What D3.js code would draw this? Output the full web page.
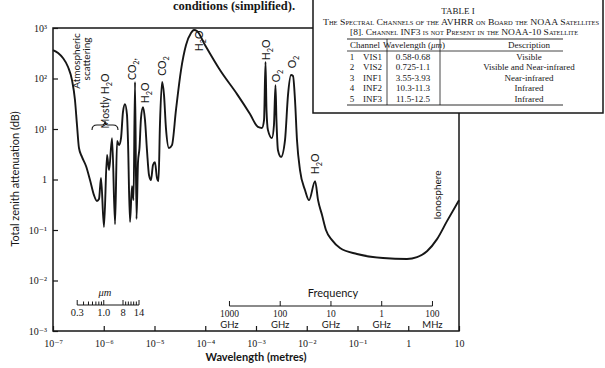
<!DOCTYPE html>
<html>
<head>
<meta charset="utf-8">
<script src="https://cdn.jsdelivr.net/npm/d3@7/dist/d3.min.js"></script>
<style>
	body { margin: 0; background: #fff; }
	svg { display: block; }
</style>
</head>
<body>
<div id="chart"></div>
<script>
// total zenith attenuation (dB) against wavelength (m)
const wavelength = [
	1.0e-7, 1.26e-7, 1.57e-7, 1.98e-7, 2.37e-7, 2.71e-7, 2.97e-7, 3.25e-7, 3.72e-7, 4.47e-7,
	5.36e-7, 6.42e-7, 7.36e-7, 8.06e-7, 8.83e-7, 1.01e-6, 1.16e-6, 1.27e-6, 1.46e-6, 1.67e-6,
	1.83e-6, 2.0e-6, 2.19e-6, 2.39e-6, 2.62e-6, 2.87e-6, 3.0e-6, 3.29e-6, 3.6e-6, 3.86e-6,
	4.13e-6, 4.42e-6, 4.73e-6, 5.06e-6, 5.42e-6, 5.93e-6, 6.5e-6, 7.11e-6, 7.79e-6, 8.53e-6,
	9.34e-6, 1.02e-5, 1.12e-5, 1.2e-5, 1.28e-5, 1.41e-5, 1.54e-5, 1.68e-5, 1.93e-5, 2.21e-5,
	2.65e-5, 3.33e-5, 4.18e-5, 5.24e-5, 6.0e-5, 6.87e-5, 9.88e-5, 1.95e-4, 4.23e-4, 7.62e-4,
	1.09e-3, 1.31e-3, 1.44e-3, 1.54e-3, 1.61e-3, 1.72e-3, 2.06e-3, 2.26e-3, 2.42e-3, 2.53e-3,
	2.71e-3, 3.11e-3, 3.73e-3, 4.27e-3, 4.9e-3, 5.36e-3, 5.87e-3, 6.42e-3, 7.36e-3, 9.24e-3,
	1.11e-2, 1.46e-2, 1.67e-2, 2.0e-2, 2.39e-2, 3.15e-2, 4.52e-2, 9.77e-2, 0.318, 0.944,
	1.49, 2.34, 3.69, 5.8, 10
];
const attenuation = [
	366, 320, 255, 169, 93, 37.5, 12, 4.2, 2.8, 1.85,
	0.98, 0.49, 0.375, 0.41, 1.07, 0.115, 3.05, 1.54, 6.6, 0.13,
	5.8, 4.8, 6.6, 21.7, 31, 19, 6.05, 0.144, 0.74, 0.39,
	85, 0.165, 2.2, 4.2, 16.5, 27, 15, 3.8, 1.23, 0.98,
	1.94, 2.2, 1.07, 0.93, 12, 85, 47, 10.5, 4.2, 4.8,
	23.8, 147, 460, 796, 912, 873, 460, 147, 49, 19.8,
	11, 10.5, 15, 212, 23.8, 9.5, 6.6, 12, 74, 15,
	3.8, 2.8, 6.05, 47, 117, 112, 37.5, 6.05, 1.54, 0.62,
	0.39, 0.93, 0.39, 0.198, 0.1, 0.063, 0.044, 0.0335, 0.0279, 0.0267,
	0.029, 0.038, 0.066, 0.15, 0.39
];

const xTicks = [1e-7, 1e-6, 1e-5, 1e-4, 1e-3, 1e-2, 1e-1, 1, 10];
const xTickLabels = ['10⁻⁷', '10⁻⁶', '10⁻⁵', '10⁻⁴', '10⁻³', '10⁻²', '10⁻¹', '1', '10'];
const yTicks = [1e3, 1e2, 1e1, 1, 1e-1, 1e-2, 1e-3];
const yTickLabels = ['10³', '10²', '10¹', '1', '10⁻¹', '10⁻²', '10⁻³'];

// micrometre inset scale
const micronTicksShort = [0.3, 0.4, 0.5, 0.6, 0.7, 0.8, 0.9, 1.0];
const micronTicksLong = [8, 9, 10, 11, 12, 13, 14];
const micronLabels = ['0.3', '1.0', '8', '14'];

// frequency inset scale (Hz)
const freqTicks = [1e12, 1e11, 1e10, 1e9, 1e8];
const freqLabels = ['1000', '100', '10', '1', '100'];
const freqUnits = ['GHz', 'GHz', 'GHz', 'GHz', 'MHz'];

// table I
const tableChannels = ['1', '2', '3', '4', '5'];
const tableNames = ['VIS1', 'VIS2', 'INF1', 'INF2', 'INF3'];
const tableWavelengths = ['0.58-0.68', '0.725-1.1', '3.55-3.93', '10.3-11.3', '11.5-12.5'];
const tableDescriptions = ['Visible', 'Visible and Near-infrared', 'Near-infrared', 'Infrared', 'Infrared'];

const width = 605;
const height = 368;
const ink = '#161616';
const serif = '"Liberation Serif", "DejaVu Serif", serif';
const sans = 'Lato, "Open Sans", sans-serif';

const svg = d3.select('#chart').append('svg')
	.attr('width', width)
	.attr('height', height)
	.style('background', '#fff');

const x = d3.scaleLog().domain([1e-7, 10]).range([53, 459]);
const y = d3.scaleLog().domain([1e-3, 1e3]).range([331, 28]);

// title fragment at the top
svg.append('text')
	.attr('x', 234).attr('y', 10)
	.attr('text-anchor', 'middle')
	.style('font-family', serif).style('font-size', '12.5px').style('font-weight', 'bold')
	.attr('fill', ink)
	.text('conditions (simplified).');

// frame
svg.append('rect')
	.attr('x', x(1e-7)).attr('y', y(1e3))
	.attr('width', x(10) - x(1e-7)).attr('height', y(1e-3) - y(1e3))
	.attr('fill', 'none').attr('stroke', ink).attr('stroke-width', 1.5);

const xAxis = svg.append('g')
	.attr('transform', 'translate(0,' + y(1e-3) + ')')
	.call(d3.axisBottom(x).tickValues(xTicks).tickSizeInner(-5).tickSizeOuter(0).tickPadding(9)
		.tickFormat((d, i) => xTickLabels[i]));
xAxis.select('.domain').remove();
xAxis.selectAll('line').attr('stroke', ink).attr('stroke-width', 1.2);
xAxis.selectAll('text').style('font-family', serif).style('font-size', '10px').attr('fill', ink);

const yAxis = svg.append('g')
	.attr('transform', 'translate(' + x(1e-7) + ',0)')
	.call(d3.axisLeft(y).tickValues(yTicks).tickSizeInner(-5).tickSizeOuter(0).tickPadding(6)
		.tickFormat((d, i) => yTickLabels[i]));
yAxis.select('.domain').remove();
yAxis.selectAll('line').attr('stroke', ink).attr('stroke-width', 1.2);
yAxis.selectAll('text').style('font-family', serif).style('font-size', '10px').attr('fill', ink);

svg.append('text')
	.attr('transform', 'translate(19,179) rotate(-90)')
	.attr('text-anchor', 'middle')
	.style('font-family', sans).style('font-size', '11px')
	.attr('fill', ink)
	.text('Total zenith attenuation (dB)');

svg.append('text')
	.attr('x', 256).attr('y', 361)
	.attr('text-anchor', 'middle')
	.style('font-family', sans).style('font-size', '11px').style('font-weight', 'bold')
	.attr('fill', ink)
	.text('Wavelength (metres)');

// attenuation curve
const line = d3.line()
	.x((d) => x(d[0]))
	.y((d) => y(d[1]))
	.curve(d3.curveMonotoneX);

svg.append('path')
	.datum(wavelength.map((w, i) => [w, attenuation[i]]))
	.attr('d', line)
	.attr('fill', 'none')
	.attr('stroke', ink)
	.attr('stroke-width', 1.9)
	.attr('stroke-linejoin', 'round');

// rotated band labels, parts: [text, isSubscript]
function bandLabel(cx, cy, parts, size) {
	const t = svg.append('text')
		.attr('transform', 'translate(' + cx + ',' + cy + ') rotate(-90)')
		.attr('text-anchor', 'middle')
		.style('font-family', sans).style('font-size', (size || 10.5) + 'px')
		.attr('fill', ink);
	let shift = 0;
	parts.forEach((p) => {
		const dy = p[1] ? 2.5 : -shift;
		shift = p[1] ? 2.5 : 0;
		t.append('tspan')
			.attr('dy', dy)
			.style('font-size', p[1] ? '70%' : null)
			.text(p[0]);
	});
}

bandLabel(80, 61, [['Atmospheric']], 10);
bandLabel(90, 59, [['scattering']], 10);
bandLabel(109, 101, [['Mostly H'], ['2', true], ['O']]);
bandLabel(136, 69, [['CO'], ['2', true], [',']]);
bandLabel(149, 93, [['H'], ['2', true], ['O']]);
bandLabel(166, 66, [['CO'], ['2', true]]);
bandLabel(203, 41, [['H'], ['2', true], ['O']]);
bandLabel(270, 50, [['H'], ['2', true], ['O']]);
bandLabel(280, 76, [['O'], ['2', true]]);
bandLabel(296, 62, [['O'], ['2', true]]);
bandLabel(319, 164, [['H'], ['2', true], ['O']]);
bandLabel(441, 195, [['Ionosphere']], 10);

// brace under "Mostly H2O"
svg.append('path')
	.attr('d', 'M92,130 Q92,125 97,125 L102,125 Q105,125 105,121 Q105,125 108,125 L113,125 Q118,125 118,130')
	.attr('fill', 'none').attr('stroke', ink).attr('stroke-width', 1.1);

// micrometre inset scale
const microYs = 305;
const xMicronLong = d3.scaleLinear().domain([8, 14]).range([123, 139]);
const micronPos = (v) => v <= 1 ? x(v * 1e-6) : xMicronLong(v);

svg.append('line')
	.attr('x1', micronPos(0.3)).attr('x2', micronPos(14))
	.attr('y1', microYs).attr('y2', microYs)
	.attr('stroke', ink).attr('stroke-width', 1.1);

svg.selectAll('.micron-tick')
	.data(micronTicksShort.concat(micronTicksLong))
	.enter().append('line')
	.attr('class', 'micron-tick')
	.attr('x1', (d) => micronPos(d)).attr('x2', (d) => micronPos(d))
	.attr('y1', microYs)
	.attr('y2', (d) => (d === 0.3 || d === 1.0 || d === 8 || d === 14) ? microYs - 5 : microYs - 3.5)
	.attr('stroke', ink).attr('stroke-width', 1);

svg.selectAll('.micron-label')
	.data(micronLabels)
	.enter().append('text')
	.attr('class', 'micron-label')
	.attr('x', (d) => micronPos(+d))
	.attr('y', microYs + 11)
	.attr('text-anchor', 'middle')
	.style('font-family', serif).style('font-size', '10.5px')
	.attr('fill', ink)
	.text((d) => d);

svg.append('text')
	.attr('x', 105).attr('y', 296)
	.attr('text-anchor', 'middle')
	.style('font-family', serif).style('font-size', '10.5px').style('font-style', 'italic')
	.attr('fill', ink)
	.text('μm');

// frequency inset scale, placed at λ = c / f
const c = 3e8;
const freqY = 306;
const freqPos = (f) => x(c / f);

svg.append('line')
	.attr('x1', freqPos(freqTicks[0])).attr('x2', freqPos(freqTicks[freqTicks.length - 1]))
	.attr('y1', freqY).attr('y2', freqY)
	.attr('stroke', ink).attr('stroke-width', 1.1);

svg.selectAll('.freq-tick')
	.data(freqTicks)
	.enter().append('line')
	.attr('class', 'freq-tick')
	.attr('x1', (d) => freqPos(d)).attr('x2', (d) => freqPos(d))
	.attr('y1', freqY).attr('y2', freqY - 5)
	.attr('stroke', ink).attr('stroke-width', 1);

// value and unit stacked as two lines of one text
const freqText = svg.selectAll('.freq-label')
	.data(freqTicks)
	.enter().append('text')
	.attr('class', 'freq-label')
	.attr('x', (d) => freqPos(d))
	.attr('y', freqY + 11)
	.attr('text-anchor', 'middle')
	.style('font-size', '9.5px')
	.attr('fill', ink);
freqText.append('tspan')
	.attr('x', (d) => freqPos(d))
	.style('font-family', serif)
	.text((d, i) => freqLabels[i]);
freqText.append('tspan')
	.attr('x', (d) => freqPos(d))
	.attr('dy', 10.5)
	.style('font-family', sans)
	.text((d, i) => freqUnits[i]);

svg.append('text')
	.attr('x', 333).attr('y', 297)
	.attr('text-anchor', 'middle')
	.style('font-family', sans).style('font-size', '11px')
	.attr('fill', ink)
	.text('Frequency');

// table I pasted over the top right corner
const table = svg.append('g');
table.append('rect')
	.attr('x', 313).attr('y', -1)
	.attr('width', 290).attr('height', 114)
	.attr('fill', '#fff').attr('stroke', ink).attr('stroke-width', 1.5);

const capStyle = (sel, size) => sel
	.attr('text-anchor', 'middle')
	.style('font-family', serif).style('font-size', size + 'px')
	.style('font-variant', 'small-caps')
	.attr('fill', ink);

table.append('text').attr('x', 458).attr('y', 14).call(capStyle, 9).text('TABLE I');
table.append('text').attr('x', 461).attr('y', 24.5).call(capStyle, 9)
	.attr('textLength', 276).attr('lengthAdjust', 'spacingAndGlyphs')
	.text('The Spectral Channels of the AVHRR on Board the NOAA Satellites');
table.append('text').attr('x', 464).attr('y', 35).call(capStyle, 9)
	.attr('textLength', 228).attr('lengthAdjust', 'spacingAndGlyphs')
	.text('[8]. Channel INF3 is not Present in the NOAA-10 Satellite');

const ruleX1 = 347;
const ruleX2 = 563;
[39, 51, 105].forEach((ry) => {
	table.append('line')
		.attr('x1', ruleX1).attr('x2', ruleX2).attr('y1', ry).attr('y2', ry)
		.attr('stroke', ink).attr('stroke-width', ry === 51 ? 0.8 : 0.9);
});
[387, 440].forEach((rx) => {
	table.append('line')
		.attr('x1', rx).attr('x2', rx).attr('y1', 39).attr('y2', 105)
		.attr('stroke', ink).attr('stroke-width', 0.8);
});

const cellStyle = (sel, anchor) => sel
	.attr('text-anchor', anchor)
	.style('font-family', serif).style('font-size', '9px')
	.attr('fill', ink);

table.append('text').attr('x', 365).attr('y', 48).call(cellStyle, 'middle').text('Channel');
table.append('text').attr('x', 414).attr('y', 48).call(cellStyle, 'middle')
	.html('Wavelength (<tspan font-style="italic">μm</tspan>)');
table.append('text').attr('x', 529).attr('y', 48).call(cellStyle, 'middle').text('Description');

const rowY = [59.5, 70, 80.5, 91, 101.5];
tableChannels.forEach((ch, i) => {
	table.append('text').attr('x', 352).attr('y', rowY[i]).call(cellStyle, 'middle').text(ch);
	table.append('text').attr('x', 363).attr('y', rowY[i]).call(cellStyle, 'start').text(tableNames[i]);
	table.append('text').attr('x', 413).attr('y', rowY[i]).call(cellStyle, 'middle').text(tableWavelengths[i]);
	table.append('text').attr('x', 529).attr('y', rowY[i]).call(cellStyle, 'middle').text(tableDescriptions[i]);
});
</script>
</body>
</html>
